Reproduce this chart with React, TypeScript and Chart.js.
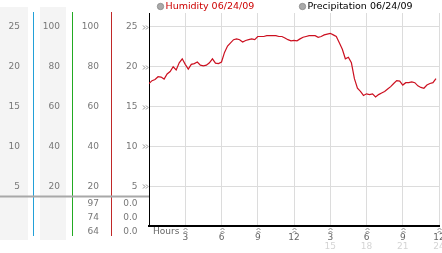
import React, { useEffect, useRef } from "react";
import { Chart, registerables } from "chart.js";
Chart.register(...registerables);

// Humidity readings every 15 minutes, starting 00:00
const STEP_HOURS = 0.25;
const HUMIDITY = [
  17.9, 18.25, 18.4, 18.75, 18.7, 18.45, 19.1, 19.4, 20.0, 19.6, 20.5, 21.0,
  20.3, 19.7, 20.3, 20.4, 20.6, 20.2, 20.1, 20.2, 20.5, 21.0, 20.45, 20.4,
  20.6, 21.8, 22.6, 23.0, 23.4, 23.5, 23.4, 23.1, 23.3, 23.4, 23.5, 23.4,
  23.8, 23.8, 23.8, 23.9, 23.9, 23.9, 23.9, 23.8, 23.8, 23.6, 23.4, 23.25,
  23.3, 23.25, 23.5, 23.7, 23.8, 23.9, 23.9, 23.9, 23.7, 23.8, 24.0, 24.1,
  24.2, 24.0, 23.8, 23.0, 22.2, 21.0, 21.2, 20.5, 18.5, 17.3, 16.9, 16.4,
  16.6, 16.5, 16.6, 16.2, 16.5, 16.7, 16.9, 17.2, 17.5, 17.9, 18.25, 18.2,
  17.7, 18.0, 18.0, 18.1, 18.0, 17.6, 17.4, 17.3, 17.7, 17.9, 18.0, 18.5,
];

const X_TICKS = [3, 6, 9, 12, 15, 18, 21, 24];
const X_LABELS = ["3", "6", "9", "12", "3", "6", "9", "12"];
const X_LABELS_24 = ["", "", "", "", "15", "18", "21", "24"];
const Y_TICKS = [5, 10, 15, 20, 25];
const COL1_LABELS = ["5", "10", "15", "20", "25"];
const COL2_LABELS = ["20", "40", "60", "80", "100"];
const COL3_LABELS = ["20", "40", "60", "80", "100"];
const COL4_LABELS = ["5", "10", "15", "20", "25"];
const COL3_EXTRA = ["97", "74", "64"];
const COL4_EXTRA = ["0.0", "0.0", "0.0"];
const LEGEND_TEXT = ["Humidity 06/24/09", "Precipitation 06/24/09"];
const LEGEND_COLORS = ["#cc0000", "#000000"];
const X_TITLE = "Hours";

const FONT = "DejaVu Sans";

function yMarker(ctx: CanvasRenderingContext2D, x: number, y: number) {
  ctx.strokeStyle = "#8a8a8a";
  ctx.lineWidth = 1;
  ctx.beginPath();
  ctx.moveTo(x - 2, y - 2);
  ctx.lineTo(x, y);
  ctx.lineTo(x - 2, y + 2);
  ctx.moveTo(x + 1, y - 2);
  ctx.lineTo(x + 3, y);
  ctx.lineTo(x + 1, y + 2);
  ctx.stroke();
}

function xMarker(ctx: CanvasRenderingContext2D, x: number, y: number) {
  ctx.strokeStyle = "#8a8a8a";
  ctx.lineWidth = 1;
  ctx.beginPath();
  ctx.moveTo(x - 2, y - 1);
  ctx.lineTo(x, y - 3);
  ctx.lineTo(x + 2, y - 1);
  ctx.moveTo(x - 2, y + 2);
  ctx.lineTo(x, y);
  ctx.lineTo(x + 2, y + 2);
  ctx.stroke();
}

const panelPlugin = {
  id: "panel",
  beforeDraw(chart: any) {
    const ctx = chart.ctx;
    ctx.save();
    ctx.fillStyle = "#f4f4f4";
    ctx.fillRect(0, 7, 28, 233);
    ctx.fillRect(40, 7, 26, 233);
    ctx.restore();
  },
  afterDraw(chart: any) {
    const ctx = chart.ctx;
    const ys = chart.scales.y;
    const xs = chart.scales.x;
    ctx.save();
    // vertical colored separators
    const seps: [number, string][] = [
      [33.5, "#22a0d8"],
      [72.5, "#22aa22"],
      [111.5, "#c02828"],
    ];
    seps.forEach(([x, c]) => {
      ctx.strokeStyle = c;
      ctx.lineWidth = 1;
      ctx.beginPath();
      ctx.moveTo(x, 12);
      ctx.lineTo(x, 236);
      ctx.stroke();
    });
    // gray horizontal divider
    ctx.strokeStyle = "#a8a8a8";
    ctx.lineWidth = 2;
    ctx.beginPath();
    ctx.moveTo(0, 196.5);
    ctx.lineTo(chart.chartArea.left, 196.5);
    ctx.stroke();

    ctx.font = `9px "${FONT}"`;
    ctx.fillStyle = "#777";
    ctx.textAlign = "right";
    ctx.textBaseline = "middle";
    Y_TICKS.forEach((v, i) => {
      const py = ys.getPixelForValue(v);
      ctx.fillText(COL1_LABELS[i], 20, py);
      ctx.fillText(COL2_LABELS[i], 60, py);
      ctx.fillText(COL3_LABELS[i], 99, py);
      ctx.fillText(COL4_LABELS[i], 137.5, py);
      yMarker(ctx, 145, Math.round(py) + 0.5);
    });
    ctx.fillStyle = "#777";
    const extraY = [204, 218, 232];
    extraY.forEach((py, i) => {
      ctx.fillText(COL3_EXTRA[i], 99, py);
      ctx.fillText(COL4_EXTRA[i], 137.5, py);
    });
    // x markers and labels
    ctx.textAlign = "center";
    X_TICKS.forEach((v, i) => {
      const px = xs.getPixelForValue(v);
      xMarker(ctx, Math.round(px) + 0.5, 231);
      ctx.font = `9px "${FONT}"`;
      ctx.fillStyle = "#666";
      ctx.fillText(X_LABELS[i], px, 237.5);
      if (X_LABELS_24[i]) {
        ctx.fillStyle = "#d4d4d4";
        ctx.fillText(X_LABELS_24[i], px, 246.5);
      }
    });
    ctx.font = `9px "${FONT}"`;
    ctx.fillStyle = "#666";
    ctx.textAlign = "left";
    ctx.fillText(X_TITLE, 153, 231.5);

    // legend
    const legendX = [157, 299];
    LEGEND_TEXT.forEach((t, i) => {
      const lx = legendX[i];
      ctx.beginPath();
      ctx.arc(lx + 3.5, 6.5, 3.2, 0, Math.PI * 2);
      ctx.fillStyle = "#aaa";
      ctx.fill();
      ctx.strokeStyle = "#888";
      ctx.lineWidth = 0.8;
      ctx.stroke();
      ctx.font = `9.5px "${FONT}"`;
      ctx.fillStyle = LEGEND_COLORS[i];
      ctx.textAlign = "left";
      ctx.fillText(t, lx + 8.5, 7);
    });
    ctx.restore();
  },
};

export default function App() {
  const ref = useRef<HTMLCanvasElement | null>(null);
  useEffect(() => {
    const canvas = ref.current;
    if (!canvas) return;
    const chart = new Chart(canvas, {
      type: "line",
      data: {
        datasets: [
          {
            label: LEGEND_TEXT[0],
            data: HUMIDITY.map((v, i) => ({ x: i * STEP_HOURS, y: v })),
            borderColor: "#cc1020",
            borderWidth: 1.2,
            pointRadius: 0,
            tension: 0,
            fill: false,
          },
        ],
      },
      options: {
        responsive: false,
        animation: false,
        events: [],
        layout: { padding: { left: 149, right: 3, top: 13, bottom: 27 } },
        plugins: { legend: { display: false }, tooltip: { enabled: false } },
        scales: {
          x: {
            type: "linear",
            min: 0,
            max: 24,
            afterBuildTicks: (s: any) => {
              s.ticks = X_TICKS.map((v) => ({ value: v }));
            },
            ticks: { display: false },
            grid: { color: "#dcdcdc", lineWidth: 1, drawTicks: false },
            border: { display: true, color: "#000", width: 2 },
          },
          y: {
            min: 0,
            max: 26.75,
            afterBuildTicks: (s: any) => {
              s.ticks = Y_TICKS.map((v) => ({ value: v }));
            },
            ticks: { display: false },
            grid: { color: "#dcdcdc", lineWidth: 1, drawTicks: false },
            border: { display: true, color: "#000", width: 1 },
          },
        },
      },
      plugins: [panelPlugin],
    });
    return () => chart.destroy();
  }, []);
  return (
    <div style={{ position: "fixed", left: 0, top: 0, width: 442, height: 253, background: "#fff" }}>
      <canvas ref={ref} width={442} height={253} style={{ display: "block" }} />
    </div>
  );
}
